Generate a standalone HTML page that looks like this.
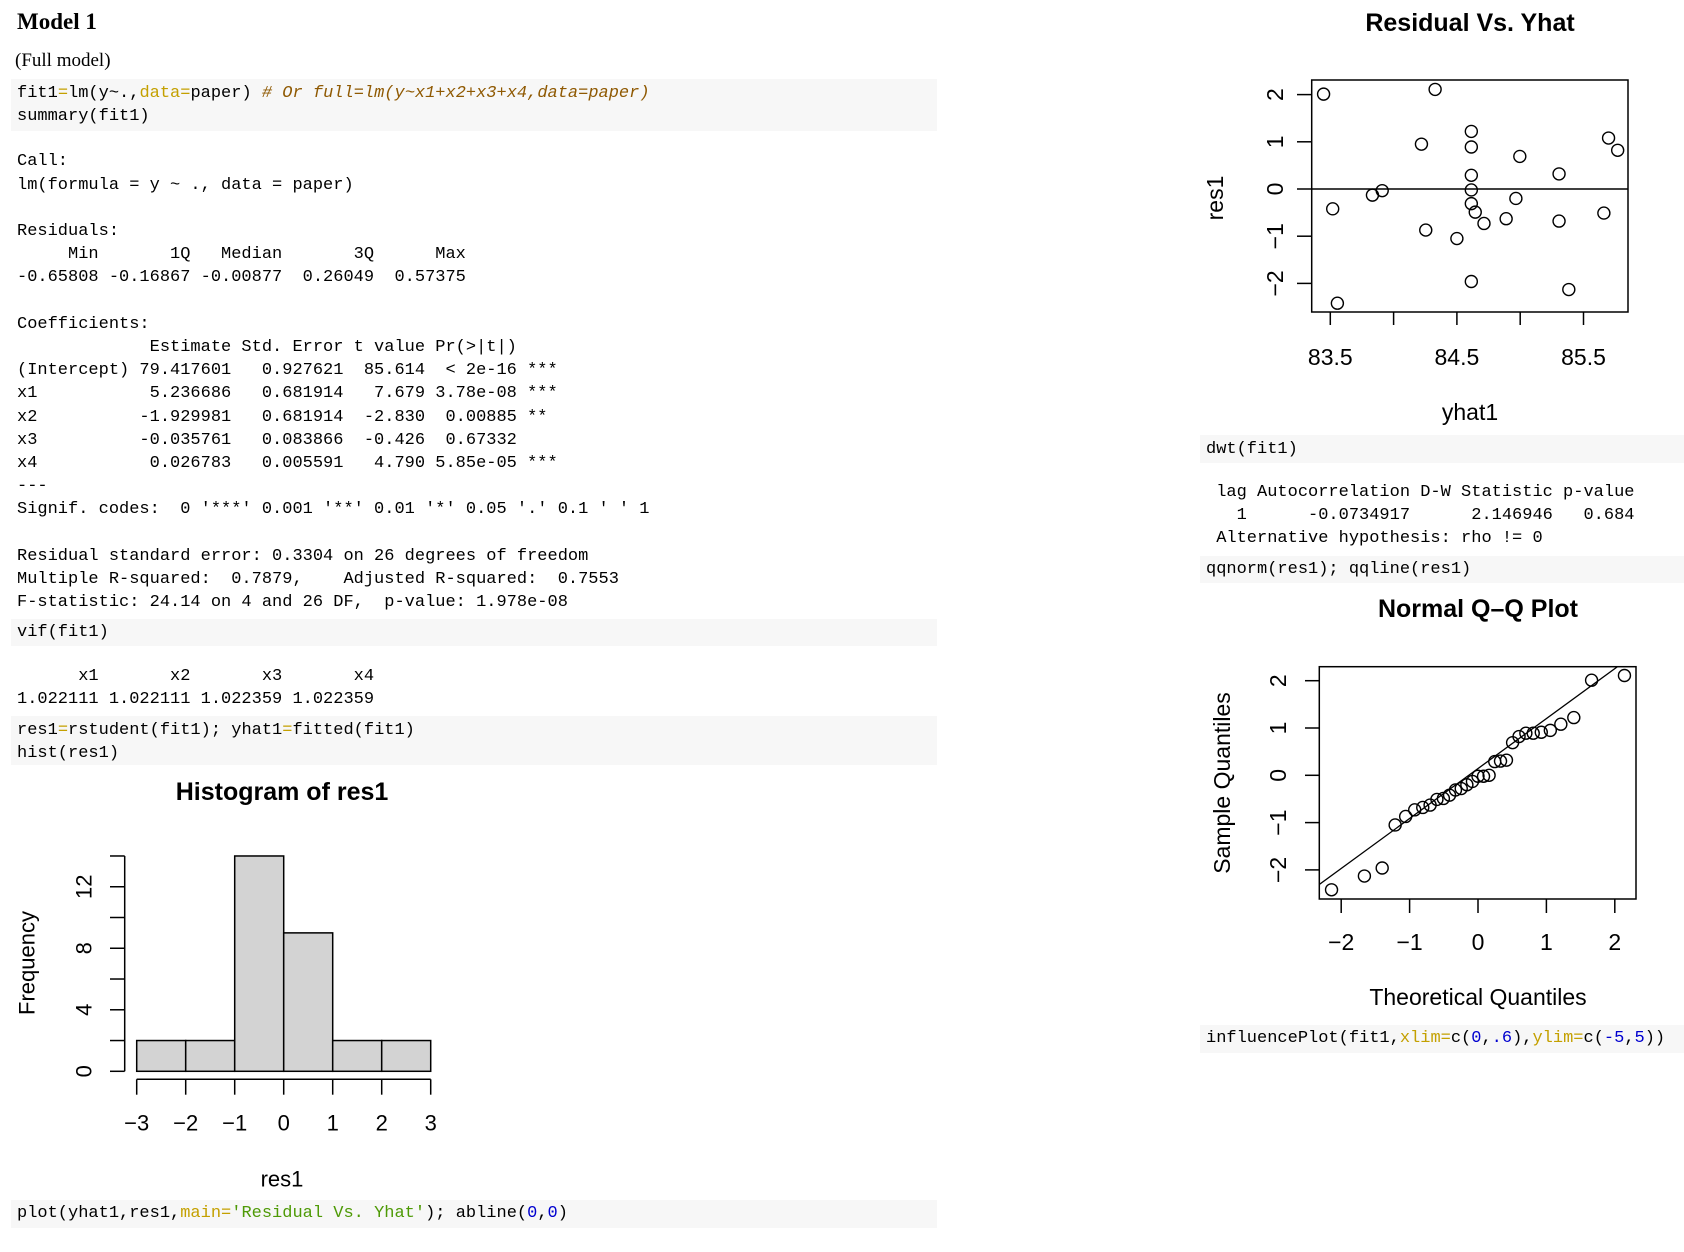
<!DOCTYPE html>
<html><head><meta charset="utf-8">
<style>
html,body{margin:0;padding:0;background:#fff;}
body{width:1684px;height:1252px;position:relative;overflow:hidden;font-family:"Liberation Mono",monospace;}
.blk{position:absolute;background:#f7f7f7;}
pre{position:absolute;margin:0;font-family:"Liberation Mono",monospace;font-size:17px;line-height:23.2px;color:#000;white-space:pre;}
.a{color:#c4a000}.c{color:#8f5902;font-style:italic}.s{color:#4e9a06}.n{color:#0000cf}
svg text{font-family:"Liberation Sans",sans-serif;fill:#000}
</style></head><body>
<div style="position:absolute;left:17px;top:9px;font-family:'Liberation Serif',serif;font-weight:bold;font-size:23px;">Model 1</div>
<div style="position:absolute;left:15px;top:50px;font-family:'Liberation Serif',serif;font-size:19px;">(Full model)</div>

<div class="blk" style="left:11px;top:79px;width:926px;height:52px;"></div>
<pre style="left:17px;top:82px;">fit1<span class="a">=</span>lm(y~.,<span class="a">data=</span>paper) <span class="c"># Or full=lm(y~x1+x2+x3+x4,data=paper)</span>
summary(fit1)</pre>

<pre style="left:17px;top:150.4px;">Call:
lm(formula = y ~ ., data = paper)

Residuals:
     Min       1Q   Median       3Q      Max 
-0.65808 -0.16867 -0.00877  0.26049  0.57375 

Coefficients:
             Estimate Std. Error t value Pr(&gt;|t|)    
(Intercept) 79.417601   0.927621  85.614  &lt; 2e-16 ***
x1           5.236686   0.681914   7.679 3.78e-08 ***
x2          -1.929981   0.681914  -2.830  0.00885 ** 
x3          -0.035761   0.083866  -0.426  0.67332    
x4           0.026783   0.005591   4.790 5.85e-05 ***
---
Signif. codes:  0 '***' 0.001 '**' 0.01 '*' 0.05 '.' 0.1 ' ' 1

Residual standard error: 0.3304 on 26 degrees of freedom
Multiple R-squared:  0.7879,	Adjusted R-squared:  0.7553 
F-statistic: 24.14 on 4 and 26 DF,  p-value: 1.978e-08</pre>

<div class="blk" style="left:11px;top:619px;width:926px;height:27px;"></div>
<pre style="left:17px;top:621px;">vif(fit1)</pre>
<pre style="left:17px;top:665px;">      x1       x2       x3       x4 
1.022111 1.022111 1.022359 1.022359 </pre>

<div class="blk" style="left:11px;top:716px;width:926px;height:49px;"></div>
<pre style="left:17px;top:719px;">res1<span class="a">=</span>rstudent(fit1); yhat1<span class="a">=</span>fitted(fit1)
hist(res1)</pre>

<div class="blk" style="left:11px;top:1200px;width:926px;height:28px;"></div>
<pre style="left:17px;top:1202px;">plot(yhat1,res1,<span class="a">main=</span><span class="s">'Residual Vs. Yhat'</span>); abline(<span class="n">0</span>,<span class="n">0</span>)</pre>

<div class="blk" style="left:1200px;top:435px;width:484px;height:28px;"></div>
<pre style="left:1206px;top:438px;">dwt(fit1)</pre>
<pre style="left:1206px;top:481px;"> lag Autocorrelation D-W Statistic p-value
   1      -0.0734917      2.146946   0.684
 Alternative hypothesis: rho != 0</pre>
<div class="blk" style="left:1200px;top:556px;width:484px;height:27px;"></div>
<pre style="left:1206px;top:558px;">qqnorm(res1); qqline(res1)</pre>
<div class="blk" style="left:1200px;top:1025px;width:484px;height:28px;"></div>
<pre style="left:1206px;top:1027px;">influencePlot(fit1,<span class="a">xlim=</span>c(<span class="n">0</span>,<span class="n">.6</span>),<span class="a">ylim=</span>c(<span class="n">-5</span>,<span class="n">5</span>))</pre>

<svg id="svg" width="1684" height="1252" style="position:absolute;left:0;top:0;" xmlns="http://www.w3.org/2000/svg"></svg>

<script>
// Histogram data
const histBreaks = [-3, -2, -1, 0, 1, 2, 3];
const histCounts = [2, 2, 14, 9, 2, 2];
const histYTicks = [0, 2, 4, 6, 8, 10, 12, 14];
const histYLabels = [0, 4, 8, 12];
// Residual vs Yhat data
const yhatVals = [83.447, 83.519, 83.556, 83.833, 83.910, 84.220, 84.254, 84.328, 84.500, 84.614, 84.614, 84.614, 84.614, 84.614, 84.645, 84.714, 84.614, 84.889, 84.966, 84.997, 85.307, 85.307, 85.384, 85.661, 85.698, 85.770];
const resVals  = [2.01, -0.42, -2.42, -0.13, -0.035, 0.95, -0.87, 2.11, -1.05, 1.22, 0.89, 0.29, -0.02, -0.31, -0.49, -0.73, -1.96, -0.63, -0.20, 0.69, 0.32, -0.68, -2.13, -0.51, 1.08, 0.82];
const rvXTicks = [83.5, 84, 84.5, 85, 85.5];
const rvXLabels = ["83.5", "", "84.5", "", "85.5"];
const rvYTicks = [-2, -1, 0, 1, 2];
// QQ data (sorted sample residuals)
const qqSample = [-2.42, -2.13, -1.96, -1.05, -0.87, -0.73, -0.68, -0.63, -0.51, -0.49, -0.42, -0.31, -0.28, -0.20, -0.13, -0.02, -0.02, 0.0, 0.29, 0.30, 0.32, 0.69, 0.82, 0.89, 0.89, 0.91, 0.95, 1.08, 1.22, 2.01, 2.11];
const qqXTicks = [-2, -1, 0, 1, 2];
const qqYTicks = [-2, -1, 0, 1, 2];

const NS = "http://www.w3.org/2000/svg";
const svg = document.getElementById("svg");
function mk(tag, attrs, parent) {
  const e = document.createElementNS(NS, tag);
  for (const k in attrs) e.setAttribute(k, attrs[k]);
  (parent || svg).appendChild(e);
  return e;
}
function txt(s, x, y, size, opts) {
  const t = mk("text", {x: x, y: y, "font-size": size, "text-anchor": "middle", "dominant-baseline": "central"});
  if (opts && opts.bold) t.setAttribute("font-weight", "bold");
  if (opts && opts.rot) t.setAttribute("transform", "rotate(-90 " + x + " " + y + ")");
  t.textContent = s;
  return t;
}
function fmt(v) { return (v < 0 ? "\u2212" : "") + Math.abs(v); }

// ---------- Histogram ----------
const hx = v => 136.7 + (v + 3) * 49;
const hy = c => 1071.3 - c * 15.38;
const hg = mk("g", {});


histCounts.forEach((c, i) => {
  const r = mk("rect", {x: hx(histBreaks[i]), y: hy(c), width: hx(histBreaks[i+1]) - hx(histBreaks[i]), height: hy(0) - hy(c), fill: "#d3d3d3", stroke: "#000", "stroke-width": 1.5}, hg);
  
  
});
mk("line", {x1: 124.7, x2: 124.7, y1: hy(histYTicks[0]), y2: hy(histYTicks[histYTicks.length-1]), stroke: "#000", "stroke-width": 1.5});
histYTicks.forEach(t => mk("line", {x1: 110, x2: 124.7, y1: hy(t), y2: hy(t), stroke: "#000", "stroke-width": 1.5}));
histYLabels.forEach(t => txt(String(t), 84, hy(t), 22, {rot: true}));
mk("line", {x1: hx(histBreaks[0]), x2: hx(histBreaks[histBreaks.length-1]), y1: 1079.3, y2: 1079.3, stroke: "#000", "stroke-width": 1.5});
histBreaks.forEach(b => { mk("line", {x1: hx(b), x2: hx(b), y1: 1079.3, y2: 1094.7, stroke: "#000", "stroke-width": 1.5}); txt(fmt(b), hx(b), 1123, 22); });
const ht = txt("Histogram of res1", 282, 792, 25, {bold: true});


txt("res1", 282, 1179, 22);
txt("Frequency", 27, 963, 22, {rot: true});

// ---------- Residual vs Yhat ----------
const rx = v => 1330.3 + (v - 83.5) * 126.6;
const ry = v => 189 - v * 47.2;
mk("rect", {x: 1311.7, y: 80, width: 316.3, height: 232, fill: "none", stroke: "#000", "stroke-width": 1.5});
mk("line", {x1: 1311.7, x2: 1628, y1: ry(0), y2: ry(0), stroke: "#000", "stroke-width": 1.5});
rvXTicks.forEach((t, i) => { mk("line", {x1: rx(t), x2: rx(t), y1: 312, y2: 325, stroke: "#000", "stroke-width": 1.5}); if (rvXLabels[i]) txt(rvXLabels[i], rx(t), 357, 23); });
rvYTicks.forEach(t => { mk("line", {x1: 1297, x2: 1311.7, y1: ry(t), y2: ry(t), stroke: "#000", "stroke-width": 1.5}); txt(fmt(t), 1275, ry(t), 23, {rot: true}); });
yhatVals.forEach((v, i) => {
  const c = mk("circle", {cx: rx(v), cy: ry(resVals[i]), r: 6, fill: "none", stroke: "#000", "stroke-width": 1.4});
  
  
});
const rt = txt("Residual Vs. Yhat", 1470, 23, 25, {bold: true});


txt("yhat1", 1470, 412, 23);
txt("res1", 1215, 198, 23, {rot: true});

// ---------- QQ plot ----------
const qx = v => 1478 + v * 68.4;
const qy = v => 775.3 - v * 47.3;
function qnorm(p) {
  const a=[-39.69683028665376,220.9460984245205,-275.9285104469687,138.3577518672690,-30.66479806614716,2.506628277459239];
  const b=[-54.47609879822406,161.5858368580409,-155.6989798598866,66.80131188771972,-13.28068155288572];
  const c=[-0.007784894002430293,-0.3223964580411365,-2.400758277161838,-2.549732539343734,4.374664141464968,2.938163982698783];
  const d=[0.007784695709041462,0.3224671290700398,2.445134137142996,3.754408661907416];
  const pl=0.02425;
  if (p < pl) { const q=Math.sqrt(-2*Math.log(p)); return (((((c[0]*q+c[1])*q+c[2])*q+c[3])*q+c[4])*q+c[5])/((((d[0]*q+d[1])*q+d[2])*q+d[3])*q+1); }
  if (p > 1-pl) { const q=Math.sqrt(-2*Math.log(1-p)); return -(((((c[0]*q+c[1])*q+c[2])*q+c[3])*q+c[4])*q+c[5])/((((d[0]*q+d[1])*q+d[2])*q+d[3])*q+1); }
  const q=p-0.5, r=q*q;
  return (((((a[0]*r+a[1])*r+a[2])*r+a[3])*r+a[4])*r+a[5])*q/(((((b[0]*r+b[1])*r+b[2])*r+b[3])*r+b[4])*r+1);
}
const nq = qqSample.length;
const sorted = qqSample.slice().sort((a, b) => a - b);
const theo = sorted.map((_, i) => qnorm((i + 1 - 0.5) / nq));
function quant(arr, p) { const h = (arr.length - 1) * p, lo = Math.floor(h); return arr[lo] + (h - lo) * ((arr[lo+1] ?? arr[lo]) - arr[lo]); }
const q1 = quant(sorted, 0.25), q3 = quant(sorted, 0.75), z1 = qnorm(0.25), z3 = qnorm(0.75);
const slope = (q3 - q1) / (z3 - z1), icpt = q1 - slope * z1;
const cp = mk("clipPath", {id: "qqclip"});
mk("rect", {x: 1319.3, y: 666.7, width: 316.7, height: 232.3}, cp);
mk("rect", {x: 1319.3, y: 666.7, width: 316.7, height: 232.3, fill: "none", stroke: "#000", "stroke-width": 1.5});
const ql = mk("line", {x1: qx(-3), y1: qy(icpt - 3 * slope), x2: qx(3), y2: qy(icpt + 3 * slope), stroke: "#000", "stroke-width": 1.3, "clip-path": "url(#qqclip)"});


qqXTicks.forEach(t => { mk("line", {x1: qx(t), x2: qx(t), y1: 899, y2: 913, stroke: "#000", "stroke-width": 1.5}); txt(fmt(t), qx(t), 942, 23); });
qqYTicks.forEach(t => { mk("line", {x1: 1305, x2: 1319.3, y1: qy(t), y2: qy(t), stroke: "#000", "stroke-width": 1.5}); txt(fmt(t), 1278, qy(t), 23, {rot: true}); });
sorted.forEach((v, i) => {
  const c = mk("circle", {cx: qx(theo[i]), cy: qy(v), r: 6, fill: "none", stroke: "#000", "stroke-width": 1.4});
  
  
});
const qt = txt("Normal Q\u2013Q Plot", 1478, 609, 25, {bold: true});


txt("Theoretical Quantiles", 1478, 997, 23);
txt("Sample Quantiles", 1222, 783, 23, {rot: true});
</script>
</body></html>
